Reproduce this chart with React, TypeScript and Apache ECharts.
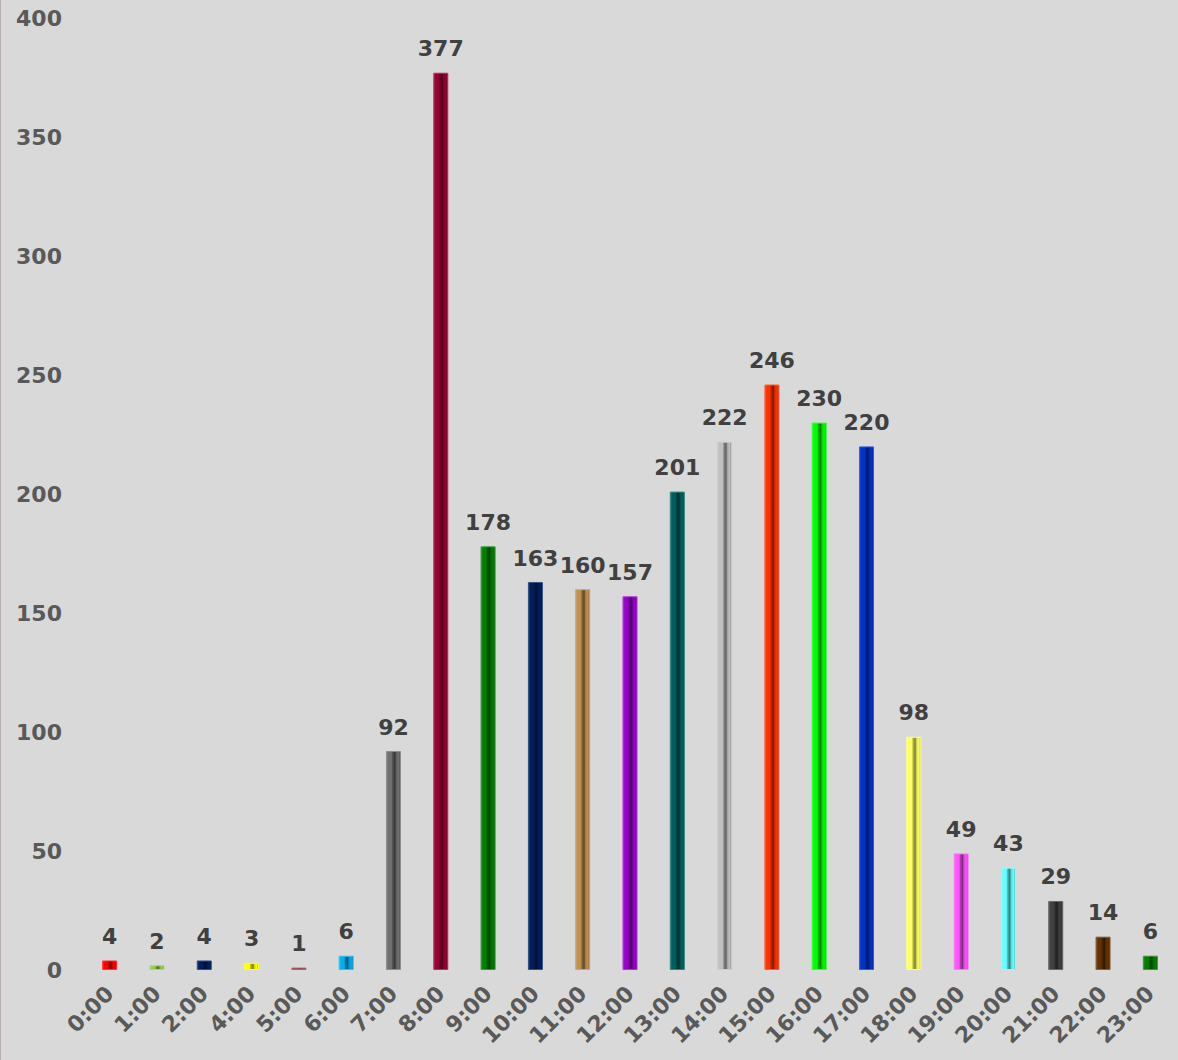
import React, { useEffect, useRef } from "react";
import * as echarts from "echarts";

const categories = ["0:00","1:00","2:00","4:00","5:00","6:00","7:00","8:00","9:00","10:00","11:00","12:00","13:00","14:00","15:00","16:00","17:00","18:00","19:00","20:00","21:00","22:00","23:00"];
const values = [4,2,4,3,1,6,92,377,178,163,160,157,201,222,246,230,220,98,49,43,29,14,6];
const barColors = ["#ff0000","#92d050","#002060","#ffff00","#993344","#00b0f0","#707070","#990033","#008000","#002060","#c0904f","#9900cc","#006060","#c0c0c0","#ff3300","#00ff00","#0033cc","#ffff66","#ff55ff","#66ffff","#404040","#663300","#008000"];
const yTicks = { min: 0, max: 400, interval: 50 };

function shade(hex: string, f: number): string {
  const n = parseInt(hex.slice(1), 16);
  let r = (n >> 16) & 255, g = (n >> 8) & 255, b = n & 255;
  if (f < 0) {
    r = Math.round(r * (1 + f)); g = Math.round(g * (1 + f)); b = Math.round(b * (1 + f));
  } else {
    r = Math.round(r + (255 - r) * f); g = Math.round(g + (255 - g) * f); b = Math.round(b + (255 - b) * f);
  }
  return "rgb(" + r + "," + g + "," + b + ")";
}

function bevel(hex: string) {
  return new echarts.graphic.LinearGradient(0, 0, 1, 0, [
    { offset: 0, color: shade(hex, 0.15) },
    { offset: 0.14, color: hex },
    { offset: 0.35, color: hex },
    { offset: 0.45, color: shade(hex, -0.3) },
    { offset: 0.6, color: shade(hex, -0.5) },
    { offset: 0.7, color: shade(hex, -0.15) },
    { offset: 0.86, color: hex },
    { offset: 1, color: shade(hex, -0.3) },
  ]);
}

const labelFont = "DejaVu Sans";

export default function App() {
  const ref = useRef<HTMLDivElement>(null);
  useEffect(() => {
    if (!ref.current) return;
    const chart = echarts.init(ref.current, null, { renderer: "svg" });
    chart.setOption({
      animation: false,
      backgroundColor: "#d9d9d9",
      grid: { left: 86, right: 4, top: 18, bottom: 90, containLabel: false },
      graphic: [
        { type: "line", shape: { x1: 0.5, y1: 0, x2: 0.5, y2: 1060 }, style: { stroke: "#b8b0b0", lineWidth: 1 } },
      ],
      xAxis: {
        type: "category",
        data: categories,
        axisLine: { show: false },
        axisTick: { show: false },
        axisLabel: {
          rotate: 45,
          interval: 0,
          margin: 20,
          fontFamily: labelFont,
          fontWeight: "bold",
          fontSize: 22,
          color: "#595959",
        },
      },
      yAxis: {
        type: "value",
        min: yTicks.min,
        max: yTicks.max,
        interval: yTicks.interval,
        splitLine: { show: false },
        axisLine: { show: false },
        axisTick: { show: false },
        axisLabel: {
          margin: 24,
          fontFamily: labelFont,
          fontWeight: "bold",
          fontSize: 22,
          color: "#595959",
        },
      },
      series: [
        {
          type: "bar",
          barWidth: 15,
          data: values.map((v, i) => ({
            value: v,
            itemStyle: {
              color: bevel(barColors[i]),
              borderColor: shade(barColors[i], 0.2),
              borderWidth: 1,
            },
          })),
          label: {
            show: true,
            position: "top",
            distance: 13,
            fontFamily: labelFont,
            fontWeight: "bold",
            fontSize: 22,
            color: "#404040",
          },
        },
      ],
    });
    return () => chart.dispose();
  }, []);
  return (
    <div
      ref={ref}
      style={{ position: "absolute", left: 0, top: 0, width: 1178, height: 1060 }}
    />
  );
}
